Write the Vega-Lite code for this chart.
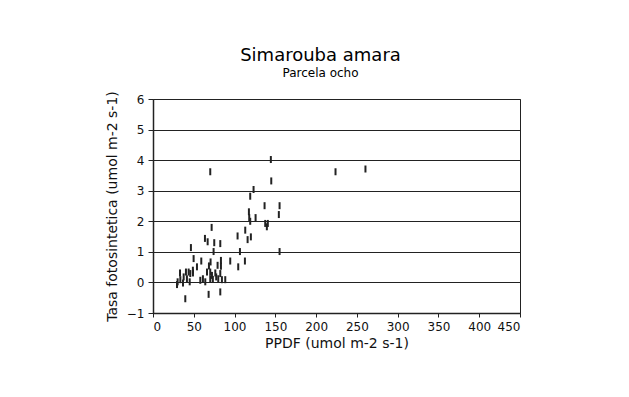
{
  "$schema": "https://vega.github.io/schema/vega-lite/v6.json",
  "width": 367,
  "height": 214,
  "autosize": "none",
  "padding": {"left": 153, "top": 99, "right": 109, "bottom": 84},
  "background": "white",
  "title": {
    "text": "Simarouba amara",
    "subtitle": "Parcela ocho",
    "anchor": "middle",
    "dx": -16,
    "offset": 12,
    "font": "DejaVu Sans",
    "fontSize": 18,
    "fontWeight": "normal",
    "color": "black",
    "subtitleFont": "DejaVu Sans",
    "subtitleFontSize": 12,
    "subtitleColor": "black",
    "subtitlePadding": 3
  },
  "data": {
    "values": [
      {"ppdf": 70.2, "tasa": 3.62},
      {"ppdf": 223.8, "tasa": 3.62},
      {"ppdf": 260.5, "tasa": 3.71},
      {"ppdf": 144.5, "tasa": 4.02},
      {"ppdf": 145, "tasa": 3.32},
      {"ppdf": 123.3, "tasa": 3.04},
      {"ppdf": 119.2, "tasa": 2.82},
      {"ppdf": 136.8, "tasa": 2.51},
      {"ppdf": 155.2, "tasa": 2.51},
      {"ppdf": 154.3, "tasa": 2.22},
      {"ppdf": 117.6, "tasa": 2.31},
      {"ppdf": 118, "tasa": 2.12},
      {"ppdf": 125.8, "tasa": 2.12},
      {"ppdf": 119.2, "tasa": 2.0},
      {"ppdf": 137.6, "tasa": 1.93},
      {"ppdf": 139.6, "tasa": 1.82},
      {"ppdf": 140.8, "tasa": 1.93},
      {"ppdf": 113.1, "tasa": 1.71},
      {"ppdf": 103.7, "tasa": 1.52},
      {"ppdf": 120, "tasa": 1.49},
      {"ppdf": 116, "tasa": 1.4},
      {"ppdf": 71.9, "tasa": 1.8},
      {"ppdf": 63.7, "tasa": 1.44},
      {"ppdf": 67, "tasa": 1.33},
      {"ppdf": 75.1, "tasa": 1.3},
      {"ppdf": 82.5, "tasa": 1.27},
      {"ppdf": 46.5, "tasa": 1.14},
      {"ppdf": 106.6, "tasa": 1.01},
      {"ppdf": 155.2, "tasa": 1.01},
      {"ppdf": 74.3, "tasa": 1.01},
      {"ppdf": 49.8, "tasa": 0.78},
      {"ppdf": 59.2, "tasa": 0.7},
      {"ppdf": 94.7, "tasa": 0.7},
      {"ppdf": 112.7, "tasa": 0.7},
      {"ppdf": 70.6, "tasa": 0.67},
      {"ppdf": 83.3, "tasa": 0.72},
      {"ppdf": 104.5, "tasa": 0.51},
      {"ppdf": 53.9, "tasa": 0.51},
      {"ppdf": 68.6, "tasa": 0.54},
      {"ppdf": 79.2, "tasa": 0.56},
      {"ppdf": 83.3, "tasa": 0.53},
      {"ppdf": 48.9, "tasa": 0.4},
      {"ppdf": 43.7, "tasa": 0.34},
      {"ppdf": 33.1, "tasa": 0.31},
      {"ppdf": 40.4, "tasa": 0.34},
      {"ppdf": 45.7, "tasa": 0.29},
      {"ppdf": 70.2, "tasa": 0.34},
      {"ppdf": 76.4, "tasa": 0.31},
      {"ppdf": 82.5, "tasa": 0.29},
      {"ppdf": 61.2, "tasa": 0.12},
      {"ppdf": 64.1, "tasa": 0.02},
      {"ppdf": 70.2, "tasa": 0.12},
      {"ppdf": 73.4, "tasa": 0.1},
      {"ppdf": 77.5, "tasa": 0.18},
      {"ppdf": 80, "tasa": 0.12},
      {"ppdf": 84.5, "tasa": 0.09},
      {"ppdf": 88.6, "tasa": 0.09},
      {"ppdf": 30.2, "tasa": 0.02},
      {"ppdf": 33.5, "tasa": 0.09},
      {"ppdf": 37.6, "tasa": 0.18},
      {"ppdf": 41.6, "tasa": 0.12},
      {"ppdf": 45, "tasa": 0.02},
      {"ppdf": 29.4, "tasa": -0.07},
      {"ppdf": 36.8, "tasa": -0.02},
      {"ppdf": 68.2, "tasa": -0.39},
      {"ppdf": 82.5, "tasa": -0.31},
      {"ppdf": 39.6, "tasa": -0.53},
      {"ppdf": 66.2, "tasa": 0.34},
      {"ppdf": 72.3, "tasa": 0.23},
      {"ppdf": 58, "tasa": 0.07},
      {"ppdf": 49, "tasa": 0.31}
    ]
  },
  "mark": {"type": "tick", "orient": "vertical", "size": 7, "thickness": 2, "color": "#222", "opacity": 1},
  "encoding": {
    "x": {
      "field": "ppdf",
      "type": "quantitative",
      "scale": {"domain": [0, 450], "nice": false, "zero": false},
      "axis": {
        "title": "PPDF (umol m-2 s-1)",
        "values": [0, 50, 100, 150, 200, 250, 300, 350, 400, 450],
        "grid": false,
        "tickSize": 4,
        "labelPadding": 4,
        "titlePadding": 4
      }
    },
    "y": {
      "field": "tasa",
      "type": "quantitative",
      "scale": {"domain": [-1, 6], "nice": false, "zero": false},
      "axis": {
        "title": "Tasa fotosintetica (umol m-2 s-1)",
        "values": [-1, 0, 1, 2, 3, 4, 5, 6],
        "grid": true,
        "tickSize": 5,
        "labelPadding": 4,
        "titlePadding": 7
      }
    }
  },
  "config": {
    "font": "DejaVu Sans",
    "view": {"stroke": "#222", "strokeWidth": 1},
    "axis": {
      "domainColor": "#222",
      "domainWidth": 1.5,
      "tickColor": "#222",
      "gridColor": "#222",
      "gridWidth": 1.2,
      "gridOpacity": 1,
      "labelFont": "DejaVu Sans",
      "labelFontSize": 12,
      "labelColor": "#111",
      "titleFont": "DejaVu Sans",
      "titleFontSize": 14,
      "titleFontWeight": "normal",
      "titleColor": "#111"
    }
  }
}
